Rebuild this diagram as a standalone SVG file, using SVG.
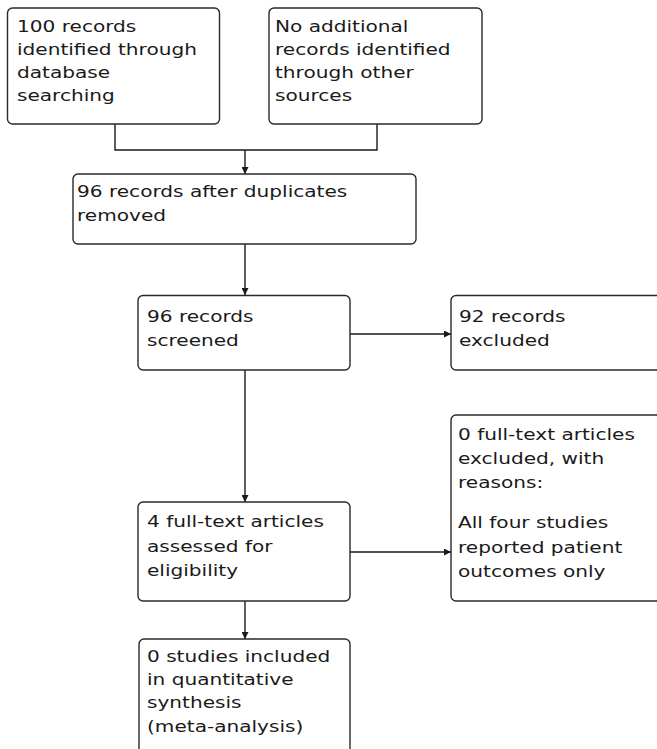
<svg xmlns="http://www.w3.org/2000/svg" width="657" height="749" viewBox="0 0 657 749">
<style>
.box{fill:#fff;stroke:#2a2a2a;stroke-width:1.4}
.t{font-family:"DejaVu Sans",Verdana,sans-serif;font-size:15px;fill:#1a1a1a}
.c{fill:none;stroke:#1a1a1a;stroke-width:1.4}
</style>
<defs>
<marker id="ah" viewBox="0 0 10 10" refX="10" refY="5" markerWidth="7" markerHeight="7" markerUnits="userSpaceOnUse" orient="auto">
<path d="M0,0 L10,5 L0,10 Z" fill="#1a1a1a"/>
</marker>
</defs>
<rect width="657" height="749" fill="#fff"/>
<g id="connectors">
<path class="c" d="M115,124 V150 H377 V124"/>
<path class="c" d="M245,150 V174" marker-end="url(#ah)"/>
<path class="c" d="M245,244 V295" marker-end="url(#ah)"/>
<path class="c" d="M245,370 V502" marker-end="url(#ah)"/>
<path class="c" d="M350,334 H451" marker-end="url(#ah)"/>
<path class="c" d="M350,552 H451" marker-end="url(#ah)"/>
<path class="c" d="M245,601 V639" marker-end="url(#ah)"/>
</g>
<g id="n1">
<rect class="box" x="7.5" y="8" width="212" height="116" rx="5"/>
<text class="t" transform="translate(17 0) scale(1.34 1)"><tspan x="0" y="32">100 records</tspan><tspan x="0" y="55">identified through</tspan><tspan x="0" y="78">database</tspan><tspan x="0" y="101">searching</tspan></text>
</g>
<g id="n2">
<rect class="box" x="269" y="8" width="213" height="116" rx="5"/>
<text class="t" transform="translate(275 0) scale(1.34 1)"><tspan x="0" y="32">No additional</tspan><tspan x="0" y="55">records identified</tspan><tspan x="0" y="78">through other</tspan><tspan x="0" y="101">sources</tspan></text>
</g>
<g id="n3">
<rect class="box" x="73" y="174" width="343" height="70" rx="5"/>
<text class="t" transform="translate(77 0) scale(1.34 1)"><tspan x="0" y="197">96 records after duplicates</tspan><tspan x="0" y="221">removed</tspan></text>
</g>
<g id="n4">
<rect class="box" x="138" y="295.5" width="212" height="74.5" rx="5"/>
<text class="t" transform="translate(147 0) scale(1.34 1)"><tspan x="0" y="322">96 records</tspan><tspan x="0" y="346">screened</tspan></text>
</g>
<g id="n5">
<rect class="box" x="451" y="295.5" width="215" height="74.5" rx="5"/>
<text class="t" transform="translate(459 0) scale(1.34 1)"><tspan x="0" y="322">92 records</tspan><tspan x="0" y="346">excluded</tspan></text>
</g>
<g id="n6">
<rect class="box" x="138" y="502" width="212" height="99" rx="5"/>
<text class="t" transform="translate(147 0) scale(1.34 1)"><tspan x="0" y="527">4 full-text articles</tspan><tspan x="0" y="552">assessed for</tspan><tspan x="0" y="576">eligibility</tspan></text>
</g>
<g id="n7">
<rect class="box" x="451" y="415" width="215" height="186" rx="5"/>
<text class="t" transform="translate(458 0) scale(1.34 1)"><tspan x="0" y="440">0 full-text articles</tspan><tspan x="0" y="464">excluded, with</tspan><tspan x="0" y="488">reasons:</tspan><tspan x="0" y="528">All four studies</tspan><tspan x="0" y="553">reported patient</tspan><tspan x="0" y="577">outcomes only</tspan></text>
</g>
<g id="n8">
<rect class="box" x="139" y="639" width="211" height="130" rx="5"/>
<text class="t" transform="translate(147 0) scale(1.34 1)"><tspan x="0" y="662">0 studies included</tspan><tspan x="0" y="685">in quantitative</tspan><tspan x="0" y="708">synthesis</tspan><tspan x="0" y="732">(meta-analysis)</tspan></text>
</g>
</svg>
